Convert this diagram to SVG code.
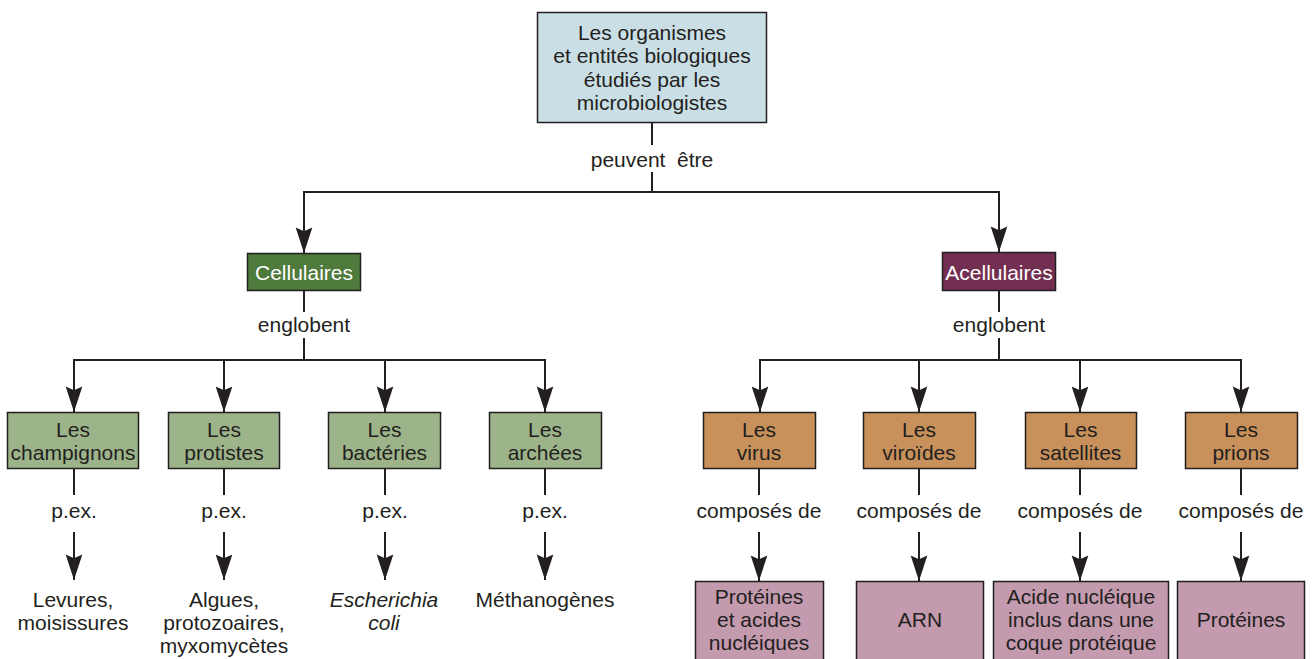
<svg xmlns="http://www.w3.org/2000/svg" width="1314" height="659" viewBox="0 0 1314 659">
<defs>
<marker id="arr" markerUnits="userSpaceOnUse" markerWidth="30" markerHeight="20" viewBox="-24 -9 26 18" refX="0" refY="0" orient="auto">
<path d="M0,0 L-23,-7.5 L-19.5,0 L-23,7.5 Z" fill="#231f20"/>
</marker>
<style>
text{font-family:"Liberation Sans",Arial,sans-serif;font-size:21px;fill:#231f20;text-anchor:middle}
.w{fill:#ffffff}
.box{stroke:#231f20;stroke-width:1.5}
.top{fill:#cadee5}
.cel{fill:#4e7a3b}
.acel{fill:#732f51}
.g{fill:#9db48a}
.o{fill:#c8905a}
.p{fill:#c39aae}
.ln{fill:none;stroke:#231f20;stroke-width:2}
</style>
</defs>
<rect width="1314" height="659" fill="#ffffff"/>
<g id="connectors">
<path class="ln" d="M652,122 V145"/>
<path class="ln" d="M652,172 V192 H304 V253" marker-end="url(#arr)"/>
<path class="ln" d="M652,192 H999 V252" marker-end="url(#arr)"/>
<path class="ln" d="M304,291 V312"/>
<path class="ln" d="M304,338 V360 H74 V412" marker-end="url(#arr)"/>
<path class="ln" d="M304,360 H545 V412" marker-end="url(#arr)"/>
<path class="ln" d="M224,360 V412" marker-end="url(#arr)"/>
<path class="ln" d="M385,360 V412" marker-end="url(#arr)"/>
<path class="ln" d="M999,291 V312"/>
<path class="ln" d="M999,338 V360 H760 V412" marker-end="url(#arr)"/>
<path class="ln" d="M999,360 H1241 V412" marker-end="url(#arr)"/>
<path class="ln" d="M919,360 V412" marker-end="url(#arr)"/>
<path class="ln" d="M1080,360 V412" marker-end="url(#arr)"/>
<path class="ln" d="M74,469 V495 M74,532 V580" marker-end="url(#arr)"/>
<path class="ln" d="M224,469 V495 M224,532 V580" marker-end="url(#arr)"/>
<path class="ln" d="M385,469 V495 M385,532 V580" marker-end="url(#arr)"/>
<path class="ln" d="M545,469 V495 M545,532 V580" marker-end="url(#arr)"/>
<path class="ln" d="M759,469 V495 M759,532 V581" marker-end="url(#arr)"/>
<path class="ln" d="M919,469 V495 M919,532 V581" marker-end="url(#arr)"/>
<path class="ln" d="M1080,469 V495 M1080,532 V581" marker-end="url(#arr)"/>
<path class="ln" d="M1241,469 V495 M1241,532 V581" marker-end="url(#arr)"/>
</g>
<g id="labels">
<text x="652" y="167" xml:space="preserve">peuvent  être</text>
<text x="304" y="332">englobent</text>
<text x="999" y="332">englobent</text>
<text x="74" y="518">p.ex.</text>
<text x="224" y="518">p.ex.</text>
<text x="385" y="518">p.ex.</text>
<text x="545" y="518">p.ex.</text>
<text x="759" y="518">composés de</text>
<text x="919" y="518">composés de</text>
<text x="1080" y="518">composés de</text>
<text x="1241" y="518">composés de</text>
</g>
<g id="root">
<rect class="box top" x="537.5" y="12.5" width="229" height="110"/>
<text x="652" y="40">Les organismes</text>
<text x="652" y="63">et entités biologiques</text>
<text x="652" y="86.5">étudiés par les</text>
<text x="652" y="110">microbiologistes</text>
</g>
<g id="cellulaires">
<rect class="box cel" x="247.5" y="253.5" width="113" height="37"/>
<text class="w" x="304" y="279.5">Cellulaires</text>
</g>
<g id="acellulaires">
<rect class="box acel" x="942.5" y="252.5" width="113" height="38"/>
<text class="w" x="999" y="279.5">Acellulaires</text>
</g>
<g id="champignons">
<rect class="box g" x="7.5" y="412.5" width="131" height="56"/>
<text x="73" y="437">Les</text>
<text x="73" y="460">champignons</text>
</g>
<g id="protistes">
<rect class="box g" x="168.5" y="412.5" width="111" height="56"/>
<text x="224" y="437">Les</text>
<text x="224" y="460">protistes</text>
</g>
<g id="bacteries">
<rect class="box g" x="328.5" y="412.5" width="112" height="56"/>
<text x="384.5" y="437">Les</text>
<text x="384.5" y="460">bactéries</text>
</g>
<g id="archees">
<rect class="box g" x="489.5" y="412.5" width="112" height="56"/>
<text x="545" y="437">Les</text>
<text x="545" y="460">archées</text>
</g>
<g id="virus">
<rect class="box o" x="703.5" y="412.5" width="112" height="56"/>
<text x="759" y="437">Les</text>
<text x="759" y="460">virus</text>
</g>
<g id="viroides">
<rect class="box o" x="863.5" y="412.5" width="112" height="56"/>
<text x="919" y="437">Les</text>
<text x="919" y="460">viroïdes</text>
</g>
<g id="satellites">
<rect class="box o" x="1025.5" y="412.5" width="111" height="56"/>
<text x="1080.5" y="437">Les</text>
<text x="1080.5" y="460">satellites</text>
</g>
<g id="prions">
<rect class="box o" x="1185.5" y="412.5" width="112" height="56"/>
<text x="1241" y="437">Les</text>
<text x="1241" y="460">prions</text>
</g>
<g id="ex-champignons">
<text x="73" y="607">Levures,</text>
<text x="73" y="630">moisissures</text>
</g>
<g id="ex-protistes">
<text x="224" y="607">Algues,</text>
<text x="224" y="630">protozoaires,</text>
<text x="224" y="653">myxomycètes</text>
</g>
<g id="ex-bacteries">
<text x="384" y="607" font-style="italic">Escherichia</text>
<text x="384" y="630" font-style="italic">coli</text>
</g>
<g id="ex-archees">
<text x="545" y="607">Méthanogènes</text>
</g>
<g id="comp-virus">
<rect class="box p" x="695.5" y="581.5" width="128" height="90"/>
<text x="759" y="604">Protéines</text>
<text x="759" y="627">et acides</text>
<text x="759" y="650">nucléiques</text>
</g>
<g id="comp-viroides">
<rect class="box p" x="856.5" y="581.5" width="127" height="90"/>
<text x="920" y="627">ARN</text>
</g>
<g id="comp-satellites">
<rect class="box p" x="993.5" y="581.5" width="175" height="90"/>
<text x="1081" y="604">Acide nucléique</text>
<text x="1081" y="627">inclus dans une</text>
<text x="1081" y="650">coque protéique</text>
</g>
<g id="comp-prions">
<rect class="box p" x="1177.5" y="581.5" width="127" height="90"/>
<text x="1241" y="627">Protéines</text>
</g>
</svg>
